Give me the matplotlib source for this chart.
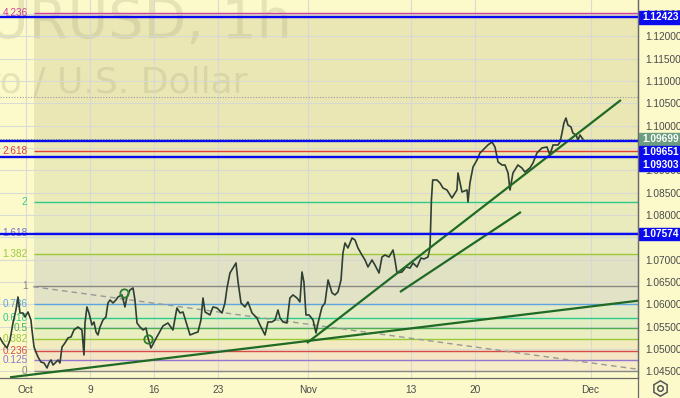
import matplotlib
matplotlib.use('Agg')
import matplotlib.pyplot as plt
from matplotlib.patches import Rectangle
from matplotlib.lines import Line2D
from matplotlib.transforms import blended_transform_factory
import numpy as np

plt.rcParams['font.family'] = ['Liberation Sans', 'DejaVu Sans']

# x = trading days counted from Mon 2 Oct 2023, y = EURUSD price (1h)
days = [-2.00, -1.77, -1.46, -1.22, -0.99, -0.76, -0.60, -0.44, -0.21, -0.05,
        0.18, 0.41, 0.49, 0.65, 0.80, 0.96, 1.19, 1.43, 1.66, 1.81,
        1.97, 2.13, 2.36, 2.52, 2.67, 2.83, 3.06, 3.29, 3.53, 3.76,
        4.07, 4.38, 4.54, 4.62, 4.77, 4.93, 5.16, 5.32, 5.48, 5.63,
        5.79, 6.02, 6.25, 6.41, 6.57, 6.80, 7.03, 7.19, 7.50, 7.73,
        7.89, 8.12, 8.36, 8.51, 8.67, 8.90, 9.14, 9.37, 9.53, 9.76,
        10.00, 10.30, 10.69, 11.08, 11.47, 11.78, 12.02, 12.25, 12.56, 12.80,
        13.19, 13.42, 13.65, 13.81, 13.97, 14.35, 14.59, 14.90, 15.29, 15.52,
        15.68, 15.91, 16.15, 16.38, 16.54, 16.77, 17.08, 17.31, 17.63, 18.01,
        18.25, 18.64, 18.87, 19.18, 19.42, 19.65, 19.81, 20.04, 20.35, 20.58,
        20.82, 21.13, 21.36, 21.52, 21.67, 21.83, 22.07, 22.38, 22.61, 22.77,
        23.08, 23.31, 23.55, 23.86, 24.09, 24.32, 24.56, 24.71, 24.87, 25.10,
        25.42, 25.65, 25.88, 26.19, 26.43, 26.66, 26.97, 27.20, 27.52, 27.75,
        27.98, 28.29, 28.61, 28.76, 28.92, 29.31, 29.62, 29.93, 30.17, 30.48,
        30.79, 31.02, 31.33, 31.49, 31.60, 31.70, 31.80, 32.03, 32.27, 32.50,
        32.81, 33.20, 33.59, 33.67, 33.98, 34.37, 34.45, 34.60, 34.84, 35.15,
        35.38, 35.62, 36.00, 36.32, 36.55, 36.79, 37.10, 37.33, 37.57, 37.72,
        37.95, 38.34, 38.65, 38.88, 39.27, 39.51, 39.82, 40.21, 40.60, 40.83,
        41.07, 41.46, 41.62, 41.77, 41.92, 42.08, 42.23, 42.47, 42.62, 42.86,
        43.02, 43.17, 43.33, 43.40]
close = [1.05246, 1.05134, 1.05022, 1.05201, 1.05581, 1.05872, 1.06164, 1.05805, 1.05805, 1.05716,
         1.05828, 1.05649, 1.05425, 1.05044, 1.04932, 1.04820, 1.04708, 1.04686, 1.04574, 1.04686,
         1.04753, 1.04641, 1.04708, 1.04753, 1.04686, 1.05044, 1.05134, 1.05246, 1.05268, 1.05425,
         1.05492, 1.05425, 1.04865, 1.05581, 1.05940, 1.05805, 1.05537, 1.05604, 1.05380, 1.05313,
         1.05492, 1.05649, 1.05716, 1.06029, 1.06096, 1.06029, 1.06096, 1.06164, 1.06209, 1.05940,
         1.06164, 1.06320, 1.06365, 1.06096, 1.05581, 1.05492, 1.05425, 1.05469, 1.05246, 1.05022,
         1.05156, 1.05313, 1.05514, 1.05581, 1.05425, 1.05917, 1.05805, 1.05828, 1.05537, 1.05313,
         1.05358, 1.05380, 1.05649, 1.06141, 1.05828, 1.05761, 1.05940, 1.05917, 1.05805, 1.06029,
         1.06365, 1.06700, 1.06812, 1.06924, 1.06499, 1.06029, 1.05940, 1.06052, 1.05805, 1.05694,
         1.05537, 1.05313, 1.05604, 1.05604, 1.05649, 1.05872, 1.05694, 1.05604, 1.05581, 1.06141,
         1.06209, 1.06141, 1.06052, 1.06723, 1.06499, 1.05761, 1.05761, 1.05649, 1.05358, 1.05581,
         1.05940, 1.06029, 1.06544, 1.06253, 1.06209, 1.06275, 1.06544, 1.07148, 1.07372, 1.07260,
         1.07484, 1.07439, 1.07260, 1.07103, 1.06991, 1.06835, 1.06991, 1.06880, 1.06700, 1.07058,
         1.07103, 1.07058, 1.07215, 1.06991, 1.06700, 1.06723, 1.06835, 1.06812, 1.06924, 1.06835,
         1.07036, 1.07014, 1.07058, 1.07260, 1.08334, 1.08782, 1.08782, 1.08782, 1.08714, 1.08602,
         1.08558, 1.08379, 1.08558, 1.08938, 1.08513, 1.08558, 1.08289, 1.08714, 1.09072, 1.09229,
         1.09386, 1.09453, 1.09565, 1.09632, 1.09520, 1.09184, 1.09117, 1.09117, 1.08938, 1.08558,
         1.08938, 1.09117, 1.09050, 1.08961, 1.09050, 1.09162, 1.09386, 1.09498, 1.09520, 1.09341,
         1.09565, 1.09565, 1.09632, 1.09833, 1.10057, 1.10169, 1.10013, 1.09968, 1.09833, 1.09789,
         1.09677, 1.09789, 1.09722, 1.09699]

tick_days = [0, 5, 10, 15, 22, 30, 35, 44]
tick_names = ['Oct', '9', '16', '23', 'Nov', '13', '20', 'Dec']

fib_names = ['0', '0.125', '0.236', '0.382', '0.5', '0.618', '0.786', '1',
             '1.382', '1.618', '2', '2.618', '4.236']
fib_prices = [1.04507, 1.04753, 1.04955, 1.05230, 1.05463, 1.05686, 1.06000, 1.06409,
              1.07119, 1.07589, 1.08289, 1.09437, 1.12512]
fib_colors = ['#888888', '#9575cd', '#d84a4a', '#9cc83c', '#4caf50', '#2ec98f', '#5ea4de', '#888888',
              '#9cc83c', '#6f73cf', '#2ec98f', '#e23c3c', '#d0409a']
band_colors = ['#f6ecc8', '#f4e6c4', '#f1ebbf', '#e9efc0', '#e2eec2', '#e2ebc6', '#e2e2c6',
               '#e1e1c4', '#e7ebbf', '#eaebbc', '#ebeab9', '#eae7b5']
fib_start = 0.61

level_prices = [1.12423, 1.09651, 1.09303, 1.07574]
last_price = 1.09699
dotted_price = 1.10646

trend_lines = [((-1.22, 1.04366), (47.69, 1.06080)),
               ((21.91, 1.05134), (46.36, 1.10572)),
               ((29.15, 1.06275), (38.57, 1.08066))]
fib_trend = ((0.57, 1.06394), (47.69, 1.04545))
circle_days = [7.66, 9.55]
circle_prices = [1.06246, 1.05216]

W, H = 680, 398
BG = '#fcfacb'
X0, X1 = -2.0, 47.69
Y0, Y1 = 1.04350, 1.12810
AX_W, AX_H = 638, 378

fig = plt.figure(figsize=(W / 100, H / 100), dpi=100, facecolor=BG)
ax = fig.add_axes([0, (H - AX_H) / H, AX_W / W, AX_H / H], facecolor=BG)
ax.set_xlim(X0, X1)
ax.set_ylim(Y0, Y1)
ax.set_axisbelow(True)

# watermark
wm = dict(transform=ax.transAxes, color='#a09c78', alpha=0.24, ha='right',
          va='baseline', zorder=0.3, clip_on=True, family='DejaVu Sans')
ax.text(292 / AX_W, 1 - 38 / AX_H, 'EURUSD, 1h', fontsize=40, **wm)
ax.text(248 / AX_W, 1 - 92 / AX_H, 'Euro / U.S. Dollar', fontsize=26, **wm)

# fib bands and levels
for lo, hi, c in zip(fib_prices[:-1], fib_prices[1:], band_colors):
    ax.fill_between([fib_start, X1 + 2], lo, hi, color=c, lw=0, zorder=0.2)
for name, p, c in zip(fib_names, fib_prices, fib_colors):
    ax.hlines(p, fib_start, X1 + 2, color=c, lw=1.0, zorder=2)
    ax.annotate(name, (fib_start, p), xytext=(-6, 0), textcoords='offset pixels',
                ha='right', va='center', color=c, fontsize=7.2, zorder=2)

ax.grid(True, color='#d6d8d6', lw=0.8, alpha=0.9)

(fx0, fy0), (fx1, fy1) = fib_trend
ax.plot([fx0, fx1], [fy0, fy1], color='#999999', lw=1.0, ls=(0, (4, 3)), zorder=2.5)

ax.axhline(dotted_price, color='#9a9a9a', lw=0.8, ls=(0, (1, 1.5)), zorder=2.5)
ax.axhline(last_price, color='#6b9a7e', lw=0.8, ls=(0, (1, 1.5)), zorder=2.5)

for p in level_prices:
    ax.axhline(p, color='#0b0bef', lw=1.7, zorder=6)

ax.plot(days, close, color='#2e3f33', lw=1.2, zorder=4)

for (a, b) in trend_lines:
    ax.plot([a[0], b[0]], [a[1], b[1]], color='#1f6a25', lw=1.6, zorder=5,
            solid_capstyle='butt')
ax.plot(circle_days, circle_prices, 'o', mfc='none', mec='#2e7d32', ms=6, mew=1.3, zorder=5)

# axes styling
for s in ['top', 'left']:
    ax.spines[s].set_visible(False)
for s in ['right', 'bottom']:
    ax.spines[s].set_color('#6a6a6a')
    ax.spines[s].set_linewidth(0.9)
ax.yaxis.tick_right()
ax.set_yticks(np.arange(1.045, 1.1251, 0.005))
ax.set_yticklabels(['%.5f' % v for v in np.arange(1.045, 1.1251, 0.005)])
ax.set_xticks(tick_days, tick_names)
ax.tick_params(length=0, labelsize=7.3, labelcolor='#4a4a4a')
ax.tick_params(axis='y', pad=5)
ax.tick_params(axis='x', pad=5)

# price labels on the scale, stacked so they don't overlap
px_per_unit = AX_H / (Y1 - Y0)
labels = sorted([(p, '#0b0bef') for p in level_prices] + [(last_price, '#6b9e80')], reverse=True)
tr = blended_transform_factory(ax.transAxes, ax.transData)
prev_y = None
for p, c in labels:
    y = p
    if prev_y is not None and (prev_y - y) * px_per_unit < 12.8:
        y = prev_y - 12.8 / px_per_unit
    prev_y = y
    h = 12.5 / px_per_unit
    ax.add_patch(Rectangle((1.0015, y - h / 2), 0.07, h, transform=tr, color=c,
                           clip_on=False, zorder=8))
    ax.text(1.0 + 23 / AX_W, y, '%.5f' % p, transform=tr, color='white', fontsize=7.3,
            fontweight='bold', ha='center', va='center', zorder=9, clip_on=False)

fig.add_artist(Line2D([AX_W / W] * 2, [0, 1], transform=fig.transFigure, color='#6a6a6a', lw=0.9))
fig.add_artist(Line2D([660 / W], [10 / H], marker='h', ms=11, mfc='none', mec='#555555', mew=1.1,
                      transform=fig.transFigure))
fig.add_artist(Line2D([660 / W], [10 / H], marker='o', ms=4, mfc='none', mec='#555555', mew=1.1,
                      transform=fig.transFigure))

fig.savefig('out.png', dpi=100, facecolor=BG)
